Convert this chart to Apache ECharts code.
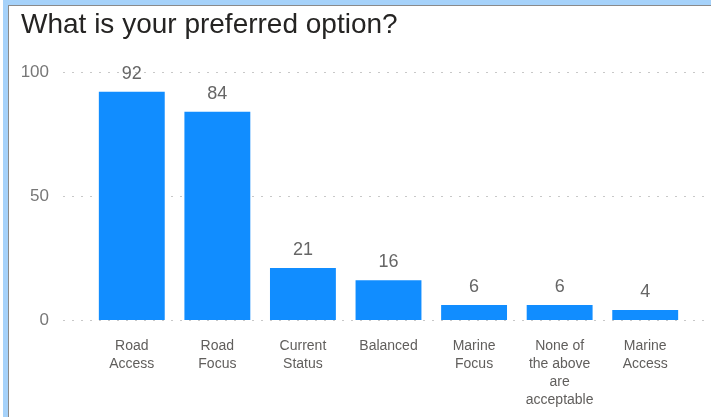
<!DOCTYPE html>
<html>
<head>
<meta charset="utf-8">
<script src="https://cdn.jsdelivr.net/npm/echarts@6/dist/echarts.min.js"></script>
<style>
  html, body { margin: 0; padding: 0; background: #ffffff; }
  #frame { position: absolute; left: 3px; top: 0; width: 708px; height: 417px;
           border-left: 5px solid #a6d2fa; border-top: 5px solid #a6d2fa; box-sizing: border-box; }
  #inner { position: absolute; left: 0; top: 0; right: 0; bottom: 0;
           border-left: 1px solid #8a8a8a; border-top: 1px solid #8a8a8a; }
  #chart { position: absolute; left: 0; top: 0; width: 711px; height: 417px; }
</style>
</head>
<body>
<div id="frame"><div id="inner"></div></div>
<div id="chart"></div>
<script>
const titleText = 'What is your preferred option?';
const categories = ['Road Access', 'Road Focus', 'Current Status', 'Balanced', 'Marine Focus', 'None of the above are acceptable', 'Marine Access'];
const tickLabels = ['Road\nAccess', 'Road\nFocus', 'Current\nStatus', 'Balanced', 'Marine\nFocus', 'None of\nthe above\nare\nacceptable', 'Marine\nAccess'];
const values = [92, 84, 21, 16, 6, 6, 4];
const yMin = 0, yMax = 100, yStep = 50;

const FONT = '"Liberation Sans", Arial, sans-serif';
const chart = echarts.init(document.getElementById('chart'));
chart.setOption({
  animation: false,
  title: {
    text: titleText, left: 16, top: 6,
    textStyle: { fontFamily: FONT, fontSize: 28, fontWeight: 'normal', color: '#252423' }
  },
  grid: [
    { left: 63, right: 0, top: 72, bottom: 97 },
    { left: 89, right: 23, top: 72, bottom: 97 }
  ],
  xAxis: [
    { gridIndex: 0, type: 'value', min: 0, max: 1, show: false },
    { gridIndex: 1, type: 'category', data: categories,
      axisLine: { show: false }, axisTick: { show: false },
      axisLabel: { interval: 0, margin: 17, fontFamily: FONT, fontSize: 14, lineHeight: 18, color: '#605e5c',
        formatter: (v, i) => tickLabels[i] } }
  ],
  yAxis: [
    { gridIndex: 0, type: 'value', min: yMin, max: yMax, interval: yStep,
      axisLine: { show: false }, axisTick: { show: false },
      axisLabel: { margin: 14, fontFamily: FONT, fontSize: 17, color: '#777777' },
      splitLine: { show: true, lineStyle: { color: '#c8c8c8', width: 1, type: [2, 7] } } },
    { gridIndex: 1, type: 'value', min: yMin, max: yMax, interval: yStep, show: false,
      splitLine: { show: false } }
  ],
  series: [{
    type: 'bar', xAxisIndex: 1, yAxisIndex: 1, data: values,
    barCategoryGap: '23%',
    itemStyle: { color: '#118dff' },
    label: { show: true, position: 'top', distance: 9, fontFamily: FONT, fontSize: 18, color: '#666666' }
  }]
});
</script>
</body>
</html>
